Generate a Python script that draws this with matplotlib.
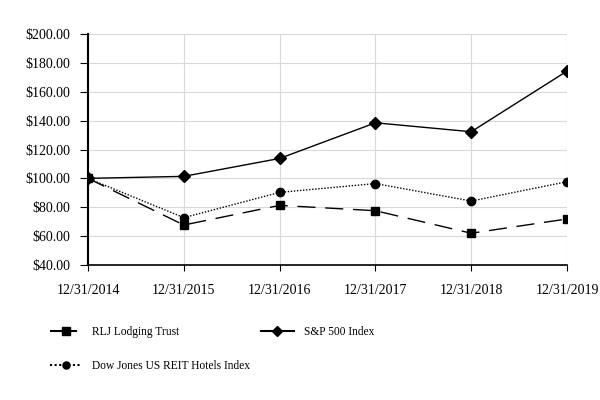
import matplotlib
matplotlib.use("Agg")
import matplotlib.pyplot as plt
from matplotlib.ticker import FuncFormatter

plt.rcParams['font.family'] = ['Liberation Serif', 'DejaVu Serif']

dates = ["12/31/2014", "12/31/2015", "12/31/2016", "12/31/2017", "12/31/2018", "12/31/2019"]
rlj = [100.0, 67.7, 81.3, 77.6, 62.0, 71.9]
sp500 = [100.0, 101.4, 113.8, 138.5, 132.3, 174.3]
djreit = [100.0, 72.8, 90.3, 96.4, 84.3, 97.7]

fig = plt.figure(figsize=(6, 4), dpi=100)
ax = fig.add_axes([0.1467, 0.3375, 0.7983, 0.5775])
x = list(range(len(dates)))

l1, = ax.plot(x, rlj, color='black', lw=1.0, linestyle=(0, (13, 7)), marker='s', ms=6,
              label='RLJ Lodging Trust', zorder=3)
l2, = ax.plot(x, sp500, color='black', lw=1.0, linestyle='-', marker='D', ms=6,
              label='S&P 500 Index', zorder=3)
l3, = ax.plot(x, djreit, color='black', lw=1.0, linestyle=(0, (1, 1.2)), marker='o', ms=6,
              label='Dow Jones US REIT Hotels Index', zorder=3)

ax.set_xlim(0, 5)
ax.set_ylim(40, 200)
ax.set_yticks(range(40, 201, 20))
ax.yaxis.set_major_formatter(FuncFormatter(lambda v, p: f"${v:.2f}"))
ax.set_xticks(x)
ax.set_xticklabels(dates)
ax.grid(True, color='#d9d9d9', lw=0.8)
ax.set_axisbelow(True)
for s in ['top', 'right']:
    ax.spines[s].set_visible(False)
ax.spines['left'].set_linewidth(1.5)
ax.spines['bottom'].set_linewidth(1.2)
ax.tick_params(axis='both', labelsize=10, direction='out', width=0.8)
ax.tick_params(axis='y', length=5.5, pad=7)
ax.tick_params(axis='x', length=4, pad=10)

leg = fig.legend(handles=[l1, l3, l2], ncol=2, loc='upper left', bbox_to_anchor=(0.066, 0.21),
                 frameon=False, fontsize=8.3, handlelength=2.8, columnspacing=0.95, labelspacing=1.9,
                 handletextpad=0.87, markerscale=0.85)
for h in leg.legend_handles:
    h.set_linewidth(1.5)

fig.savefig("out.png", dpi=100)
